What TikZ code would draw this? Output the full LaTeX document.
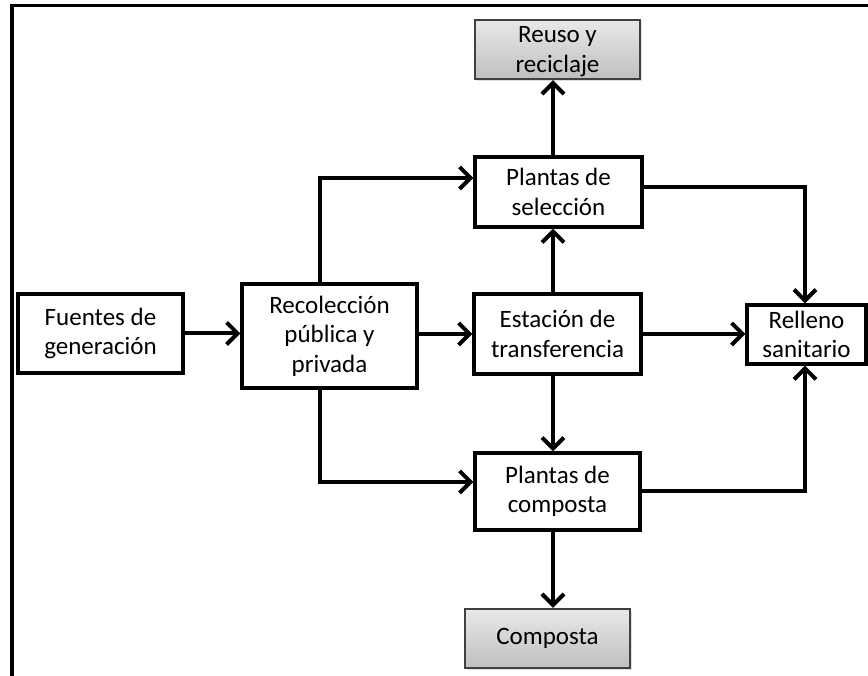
\documentclass[tikz,border=0pt]{standalone}
\usepackage{fontspec}
\setmainfont{Carlito}
\usetikzlibrary{arrows.meta,shadows}
\begin{document}
\begin{tikzpicture}[>={Straight Barb[length=11bp,width=22bp]},line join=miter,
  box/.style={draw,line width=3.2bp,fill=white,align=center,inner sep=0pt,
    font=\fontsize{25bp}{29.5bp}\selectfont},
  endbox/.style={box,draw=black!75,line width=2.4bp,top color=black!9,bottom color=black!25,
    drop shadow={shadow xshift=1.5bp,shadow yshift=-2.5bp,opacity=0.25}},
  flow/.style={line width=4bp,->},]
%%
\useasboundingbox (0bp,0bp) rectangle (868bp,676bp);
\draw [line width=3.6bp] (12bp,0bp) -- (12bp,670.5bp) -- (868bp,670.5bp);
%%
\node (node_fuentes) at (100.5bp,342.5bp) [box,minimum width=165bp,minimum height=79bp] {Fuentes de\\generación};
  \node (node_recoleccion) at (329.5bp,340bp) [box,minimum width=175bp,minimum height=104bp] {Recolección\\pública y\\privada};
  \node (node_estacion) at (557.5bp,342bp) [box,minimum width=167bp,minimum height=80bp] {Estación de\\transferencia};
  \node (node_relleno) at (806.5bp,341.5bp) [box,minimum width=119bp,minimum height=59bp] {Relleno\\sanitario};
  \node (node_seleccion) at (558.5bp,484bp) [box,minimum width=167bp,minimum height=70bp] {Plantas de\\selección};
  \node (node_reuso) at (557.5bp,626.5bp) [endbox,text depth=0pt,minimum width=165bp,minimum height=59bp] {Reuso y\\reciclaje};
  \node (node_pcomposta) at (557.5bp,184.5bp) [box,minimum width=165bp,minimum height=77bp] {Plantas de\\composta};
  \node (node_composta) at (547.5bp,37.5bp) [endbox,minimum width=165bp,minimum height=59bp] {Composta};
%%
  \draw [flow] (node_fuentes.east) -- (node_fuentes.east -| node_recoleccion.west);
  \draw [flow] (node_recoleccion.east |- node_estacion) -- (node_estacion.west);
  \draw [flow] (node_estacion.east) -- (node_estacion.east -| node_relleno.west);
  \draw [flow] ([xshift=-9.5bp]node_recoleccion.north) |- ([yshift=14bp]node_seleccion.west);
  \draw [flow] ([xshift=-9.5bp]node_recoleccion.south) |- ([yshift=9.5bp]node_pcomposta.west);
  \draw [flow] ([xshift=-4.5bp]node_estacion.north) -- ([xshift=-4.5bp]node_estacion.north |- node_seleccion.south);
  \draw [flow] ([xshift=-4.5bp]node_estacion.south) -- ([xshift=-4.5bp]node_estacion.south |- node_pcomposta.north);
  \draw [flow] ([xshift=-5.5bp]node_seleccion.north) -- ([xshift=-5.5bp]node_seleccion.north |- node_reuso.south);
  \draw [flow] ([xshift=-4.5bp]node_pcomposta.south) -- ([xshift=-4.5bp]node_pcomposta.south |- node_composta.north);
  \draw [flow] ([yshift=5bp]node_seleccion.east) -| ([xshift=-1.5bp]node_relleno.north);
  \draw [flow] (node_pcomposta.east) -| ([xshift=-1.5bp]node_relleno.south);
%
\end{tikzpicture}
\end{document}
